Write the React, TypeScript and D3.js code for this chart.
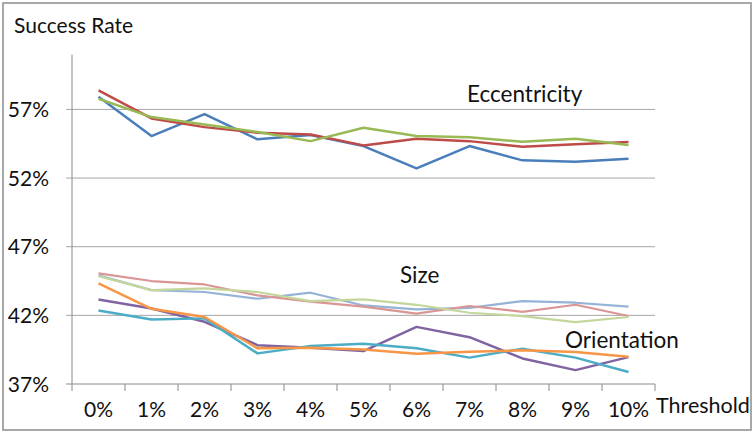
import React from "react";
import * as d3 from "d3";

const categories = ["0%", "1%", "2%", "3%", "4%", "5%", "6%", "7%", "8%", "9%", "10%"];
const yTicks = [37, 42, 47, 52, 57];

// Eccentricity
const eccBlue = [57.93, 55.06, 56.66, 54.82, 55.13, 54.33, 52.7, 54.33, 53.29, 53.19, 53.41];
const eccRed = [58.38, 56.34, 55.71, 55.3, 55.18, 54.38, 54.87, 54.69, 54.28, 54.47, 54.62];
const eccGreen = [57.78, 56.44, 55.9, 55.35, 54.69, 55.66, 55.06, 54.98, 54.64, 54.87, 54.4];
// Size
const sizeBlue = [44.91, 43.84, 43.7, 43.21, 43.65, 42.72, 42.43, 42.55, 43.04, 42.92, 42.63];
const sizePink = [45.06, 44.5, 44.25, 43.45, 43.0, 42.63, 42.12, 42.68, 42.26, 42.77, 41.95];
const sizeGreen = [44.86, 43.84, 43.96, 43.7, 43.04, 43.16, 42.77, 42.19, 41.95, 41.51, 41.88];
// Orientation
const oriPurple = [43.16, 42.5, 41.53, 39.83, 39.64, 39.4, 41.16, 40.41, 38.86, 38.01, 38.96];
const oriOrange = [44.33, 42.48, 41.88, 39.6, 39.64, 39.52, 39.2, 39.35, 39.45, 39.33, 38.99];
const oriTeal = [42.36, 41.7, 41.78, 39.23, 39.76, 39.93, 39.6, 38.92, 39.57, 38.92, 37.87];

const series = [
  { values: sizeBlue, color: "#95B3D7", width: 2.2 },
  { values: sizePink, color: "#D99694", width: 2.2 },
  { values: sizeGreen, color: "#C3D69B", width: 2.2 },
  { values: oriPurple, color: "#8064A2", width: 2.5 },
  { values: oriTeal, color: "#4BACC6", width: 2.5 },
  { values: oriOrange, color: "#F79646", width: 2.5 },
  { values: eccBlue, color: "#4A7EBB", width: 2.5 },
  { values: eccRed, color: "#BE4B48", width: 2.5 },
  { values: eccGreen, color: "#98B954", width: 2.5 },
];

const FONT = "Lato, 'Open Sans', sans-serif";

export default function App() {
  const W = 753, H = 432;
  const left = 72, right = 655, top = 54.5, bottom = 384;
  const x = d3.scaleBand<string>().domain(categories).range([left, right]);
  const y = d3.scaleLinear().domain([37, 61]).range([bottom, top]);
  const cx = (c: string) => (x(c) as number) + x.bandwidth() / 2;
  const line = d3
    .line<number>()
    .x((_, i) => cx(categories[i]))
    .y((v) => y(v));
  const boundaries = categories.map((c) => x(c) as number).concat([right]);

  return (
    <svg width={W} height={H} style={{ position: "absolute", left: 0, top: 0, background: "#fff" }}>
      <rect x={3} y={3} width={W - 5} height={H - 5} fill="#fff" stroke="#8c8c8c" strokeWidth={1.5} />
      {yTicks.map((t) => (
        <g key={t}>
          <line x1={left - 6} x2={right} y1={y(t)} y2={y(t)} stroke={t === 37 ? "#8a8a8a" : "#a6a6a6"} strokeWidth={1} />
          <text x={49} y={y(t) + 7.5} textAnchor="end" fontFamily={FONT} fontSize={21} fill="#111">
            {t}%
          </text>
        </g>
      ))}
      <line x1={left} x2={left} y1={top} y2={bottom} stroke="#8a8a8a" strokeWidth={1} />
      {boundaries.map((b, i) => (
        <line key={i} x1={b} x2={b} y1={bottom} y2={bottom + 7} stroke="#8a8a8a" strokeWidth={1} />
      ))}
      {categories.map((c) => (
        <text key={c} x={cx(c)} y={417} textAnchor="middle" fontFamily={FONT} fontSize={21} fill="#111">
          {c}
        </text>
      ))}
      {series.map((s, i) => (
        <path key={i} d={line(s.values) as string} fill="none" stroke={s.color} strokeWidth={s.width} strokeLinejoin="round" />
      ))}
      <text x={14} y={33} fontFamily={FONT} fontSize={21} fill="#111">Success Rate</text>
      <text x={656} y={413} fontFamily={FONT} fontSize={21.5} fill="#111">Threshold</text>
      <text x={467} y={102} fontFamily={FONT} fontSize={22.5} fill="#111">Eccentricity</text>
      <text x={400} y={283} fontFamily={FONT} fontSize={22.5} fill="#111">Size</text>
      <text x={565} y={348} fontFamily={FONT} fontSize={22.5} fill="#111">Orientation</text>
    </svg>
  );
}
